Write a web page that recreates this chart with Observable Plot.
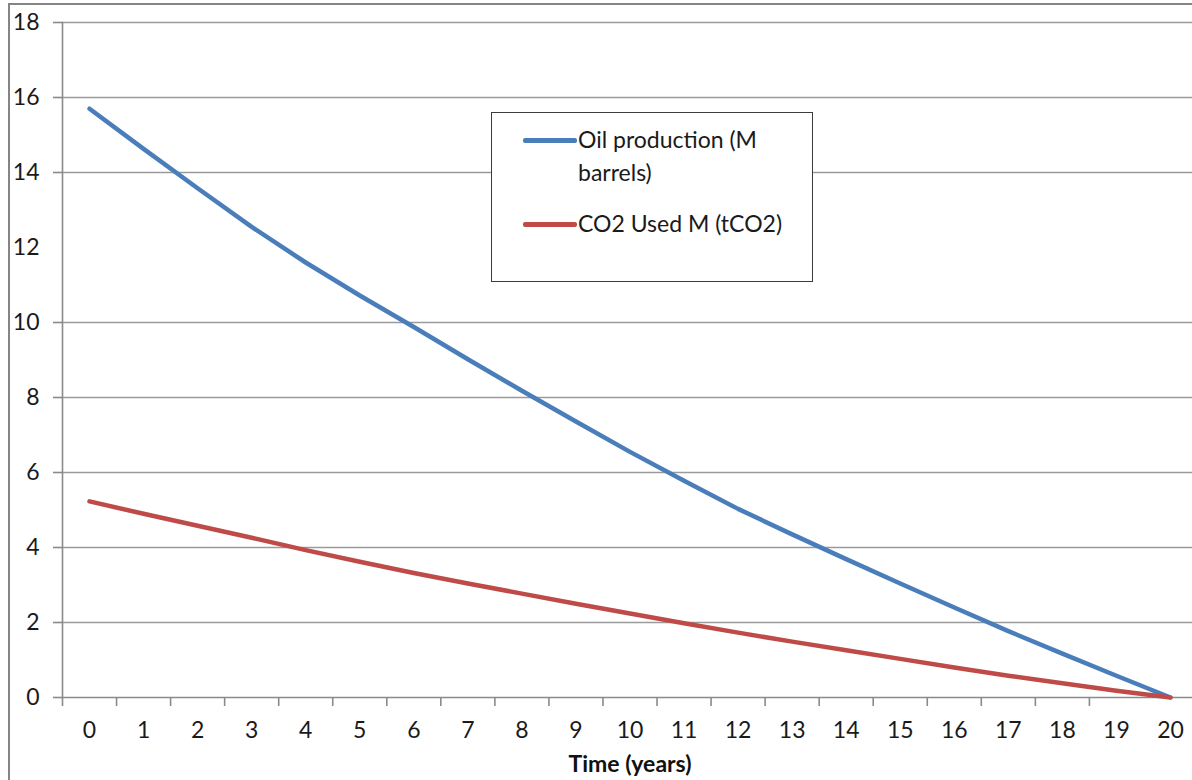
<!DOCTYPE html>
<html>
<head>
<meta charset="utf-8">
<script src="https://cdn.jsdelivr.net/npm/d3@7"></script>
<script src="https://cdn.jsdelivr.net/npm/@observablehq/plot@0.6"></script>
<style>
  html, body { margin: 0; padding: 0; background: #fff; }
  #wrap { position: relative; width: 1192px; height: 780px; overflow: hidden; font-family: Lato, "Open Sans", sans-serif; }
  #wrap svg { position: absolute; left: 0; top: 0; }
  #frame { position: absolute; left: 8px; top: 3px; width: 1400px; height: 1000px; border: 2px solid #858585; pointer-events: none; }
  #legend { position: absolute; left: 491px; top: 112px; width: 320px; height: 168px; border: 1.5px solid #3c3c3c; background: #fff; }
  .item { position: absolute; left: 31px; font-size: 23px; color: #1a1a1a; line-height: 33px; }
  .sw { position: absolute; left: 0; width: 54px; height: 4.5px; border-radius: 2px; }
  .lbl { margin-left: 55px; white-space: nowrap; }
  #xtitle { position: absolute; left: 630px; top: 763px; transform: translate(-50%, -50%); font-weight: bold; font-size: 23px; color: #111; white-space: nowrap; }
</style>
</head>
<body>
<div id="wrap">
  <div id="chart"></div>
  <div id="frame"></div>
  <div id="legend"></div>
  <div id="xtitle"></div>
</div>
<script>
// ---- data ----
const years = [0, 1, 2, 3, 4, 5, 6, 7, 8, 9, 10, 11, 12, 13, 14, 15, 16, 17, 18, 19, 20];
const oilProduction = [15.7, 14.63, 13.58, 12.55, 11.6, 10.72, 9.88, 9.02, 8.18, 7.36, 6.55, 5.78, 5.03, 4.35, 3.69, 3.04, 2.4, 1.77, 1.17, 0.58, 0];
const co2Used = [5.23, 4.9, 4.58, 4.26, 3.93, 3.62, 3.32, 3.04, 2.77, 2.5, 2.24, 1.98, 1.73, 1.49, 1.26, 1.03, 0.8, 0.58, 0.38, 0.18, 0];
const seriesNames = ["Oil production (M\nbarrels)", "CO2 Used M (tCO2)"];
const seriesColors = ["#4a7ebb", "#be4b48"];
const yLabelTicks = [0, 2, 4, 6, 8, 10, 12, 14, 16, 18];
const yGridTicks = [0, 2, 4, 6, 8, 10, 14, 16, 18];
const xTitle = "Time (years)";

const rows = [];
years.forEach((t, i) => {
  rows.push({year: t, value: oilProduction[i], series: seriesNames[0]});
  rows.push({year: t, value: co2Used[i], series: seriesNames[1]});
});
const xBoundaries = years.slice(0, -1).map(d => d - 0.5);

const chart = Plot.plot({
  width: 1192,
  height: 780,
  marginLeft: 62,
  marginRight: 0,
  marginTop: 22,
  marginBottom: 83,
  style: {fontFamily: "Lato, 'Open Sans', sans-serif", fontSize: "23px", color: "#1a1a1a", background: "transparent"},
  x: {domain: [-0.5, 20.5], range: [62, 1197]},
  y: {domain: [0, 18]},
  color: {domain: seriesNames, range: seriesColors},
  marks: [
    Plot.gridY(yGridTicks.filter(d => d !== 0), {stroke: "#9a9a9a", strokeOpacity: 1, strokeWidth: 1.6}),
    Plot.axisY(yGridTicks, {tickSize: 9, stroke: "#8a8a8a", strokeWidth: 1.6, tickFormat: () => "", label: null}),
    Plot.axisY(yLabelTicks, {tickSize: 0, tickPadding: 23, label: null, fill: "#1a1a1a", fontSize: 23}),
    Plot.frame({anchor: "left", stroke: "#8a8a8a", strokeWidth: 1.6}),
    Plot.axisX(xBoundaries, {tickSize: 9, stroke: "#8a8a8a", strokeWidth: 1.6, tickFormat: () => "", label: null}),
    Plot.axisX(years, {tickSize: 0, tickPadding: 24, label: null, fill: "#1a1a1a", fontSize: 23}),
    Plot.ruleY([0], {stroke: "#8a8a8a", strokeWidth: 1.6}),
    Plot.line(rows, {x: "year", y: "value", z: "series", stroke: "series", strokeWidth: 4.5, strokeLinecap: "round", strokeLinejoin: "round"})
  ]
});
document.getElementById("chart").appendChild(chart);

// legend (HTML overlay inside the plot area)
const legend = document.getElementById("legend");
const legendTops = [10, 94];
seriesNames.forEach((name, i) => {
  const item = document.createElement("div");
  item.className = "item";
  item.style.top = legendTops[i] + "px";
  const sw = document.createElement("div");
  sw.className = "sw";
  sw.style.background = seriesColors[i];
  sw.style.top = "15px";
  item.appendChild(sw);
  const lbl = document.createElement("div");
  lbl.className = "lbl";
  lbl.innerHTML = name.split("\n").join("<br>");
  item.appendChild(lbl);
  legend.appendChild(item);
});
document.getElementById("xtitle").textContent = xTitle;
</script>
</body>
</html>
